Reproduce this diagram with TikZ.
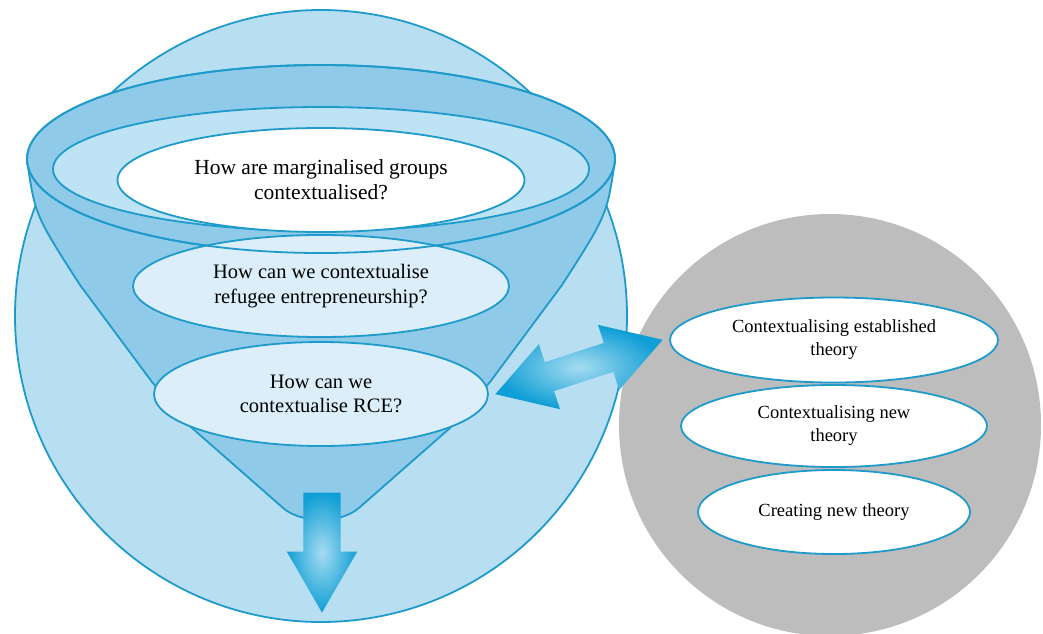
\documentclass[tikz,border=0pt]{standalone}
\usepackage{fontspec}
\setmainfont{Liberation Serif}
\usetikzlibrary{positioning,calc,shapes.geometric,shapes.arrows}

\definecolor{rim}{HTML}{1E9ACB}
\definecolor{sky}{HTML}{B8DEF2}
\definecolor{band}{HTML}{8FCBE9}
\definecolor{pale}{HTML}{BEE3F5}
\definecolor{mist}{HTML}{DBEEF9}
\definecolor{stone}{HTML}{BDBDBD}
\definecolor{flow}{HTML}{0F9ED5}
\definecolor{glow}{HTML}{A6DCF1}

\begin{document}
\begin{tikzpicture}[x=1pt,y=-1pt]
		\tikzset{disc/.style={draw=rim,
							  line width=1.8pt,
							  ellipse,
							  inner sep=0pt},
				 question/.style={disc,
								  align=center,
								  font=\fontsize{20.5}{24.5}\selectfont},
				 theory/.style={disc,
								fill=white,
								align=center,
								font=\fontsize{18.5}{23}\selectfont},
				 flowarrow/.style={inner xsep=0pt,
								   shading=radial,
								   inner color=glow,
								   outer color=flow}}
		\useasboundingbox (0,0) rectangle (1043,633);

		% Circles
		\node[circle, draw=rim, fill=sky, line width=1.8pt, inner sep=0pt, minimum size=612pt] (field) at (321,316) {};
		\node[circle, fill=stone, inner sep=0pt, minimum size=422pt] (theories) at (830,425) {};

		% Funnel
		\draw[draw=rim, fill=band, line width=1.8pt, line join=round]
			(27,160) .. controls (35,215) .. (80,285) -- (152,382) -- (192,428) -- (282,507)
			.. controls (300,524) and (342,524) .. (360,507) -- (450,428) -- (490,382) -- (562,285)
			.. controls (607,215) .. (615,160) -- cycle;
		\node[disc, fill=band, minimum width=588pt, minimum height=188pt] (mouth) at (321,159) {};
		\node[disc, fill=pale, minimum width=536pt, minimum height=124pt] (throat) at (321,169) {};

		% Questions
		\node[question, fill=white, minimum width=407pt, minimum height=104pt, font=\fontsize{21.5}{25}\selectfont] (marginal) at (321,180) {How are marginalised groups\\contextualised?};
		\node[question, fill=mist, minimum width=376pt, minimum height=102pt] (refugee) at (321,286) {How can we contextualise\\refugee entrepreneurship?};
		\node[disc, minimum width=588pt, minimum height=188pt] (mouthline) at (mouth) {};
		\node[question, fill=mist, minimum width=334pt, minimum height=104pt] (rce) at (321,394) {How can we\\contextualise RCE?};

		% Theories
		\node[theory, minimum width=328pt, minimum height=85pt] (established) at (834,340) {Contextualising established\\theory};
		\node[theory, minimum width=306pt, minimum height=82pt] (newtheory) at (834,426) {Contextualising new\\theory};
		\node[theory, minimum width=272pt, minimum height=84pt] (creating) at (834,512) {Creating new theory};

		% Arrows
		\node[flowarrow, single arrow, rotate=-90, anchor=tip, minimum height=120pt, inner ysep=18.5pt,
			  single arrow head extend=16.5pt, single arrow tip angle=60] (outflow) at (322,613) {};
		\node[flowarrow, double arrow, rotate=18, minimum height=176pt, inner ysep=15pt,
			  double arrow head extend=19pt, double arrow tip angle=62] (link) at ($(rce.east)!0.5!(established.west)$) {};
\end{tikzpicture}
\end{document}
